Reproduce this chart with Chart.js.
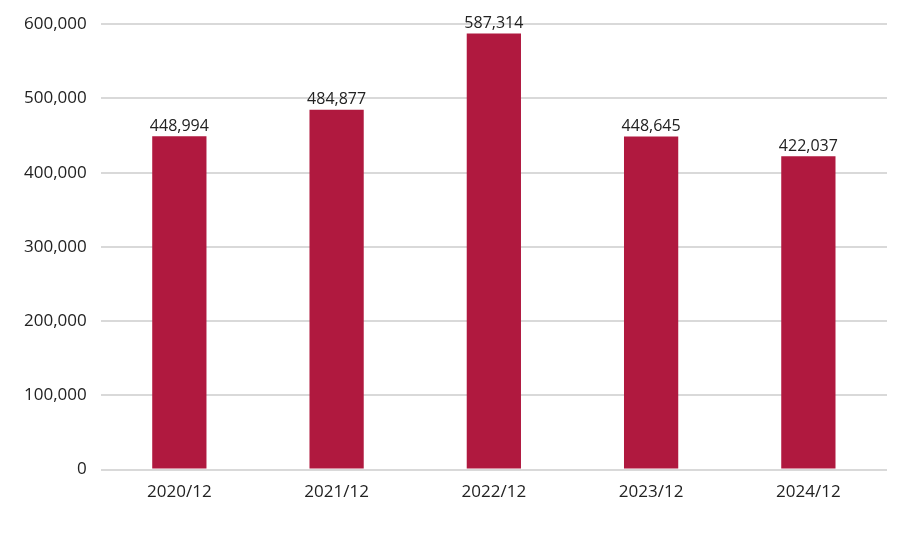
<!DOCTYPE html>
<html>
<head>
<meta charset="utf-8">
<script src="https://cdn.jsdelivr.net/npm/chart.js"></script>
<style>
  html, body { margin: 0; padding: 0; background: #fff; }
  #wrap { width: 900px; height: 556px; }
</style>
</head>
<body>
<div id="wrap"><canvas id="c"></canvas></div>
<script>
const categories = ['2020/12', '2021/12', '2022/12', '2023/12', '2024/12'];
const values = [448994, 484877, 587314, 448645, 422037];
const yTicks = [0, 100000, 200000, 300000, 400000, 500000, 600000];

const fmt = v => v.toLocaleString('en-US');

// value labels above bars
const barLabels = {
  id: 'barLabels',
  afterDatasetsDraw(chart) {
    const ctx = chart.ctx;
    const meta = chart.getDatasetMeta(0);
    ctx.save();
    ctx.font = '16px "Open Sans", sans-serif';
    ctx.fillStyle = '#222';
    ctx.textAlign = 'center';
    ctx.textBaseline = 'bottom';
    meta.data.forEach((bar, i) => {
      ctx.fillText(fmt(values[i]), bar.x, bar.y - 2);
    });
    ctx.restore();
  }
};

new Chart(document.getElementById('c'), {
  type: 'bar',
  data: {
    labels: categories,
    datasets: [{
      data: values,
      backgroundColor: '#B0193F',
      barPercentage: 0.345,
      categoryPercentage: 1.0
    }]
  },
  options: {
    responsive: true,
    maintainAspectRatio: false,
    animation: false,
    layout: { padding: { top: 12, right: 13, bottom: 50, left: 10 } },
    plugins: { legend: { display: false }, tooltip: { enabled: false } },
    scales: {
      x: {
        grid: { display: false },
        border: { display: false },
        ticks: { color: '#222', font: { family: '"Open Sans", sans-serif', size: 17 }, padding: 4 }
      },
      y: {
        min: 0,
        max: 600000,
        afterBuildTicks(axis) { axis.ticks = yTicks.map(v => ({ value: v })); },
        grid: { color: '#d9d9d9', lineWidth: 2, drawTicks: false },
        border: { display: false },
        ticks: {
          color: '#222',
          font: { family: '"Open Sans", sans-serif', size: 17 },
          padding: 14,
          callback: v => fmt(v)
        }
      }
    }
  },
  plugins: [barLabels]
});
</script>
</body>
</html>
